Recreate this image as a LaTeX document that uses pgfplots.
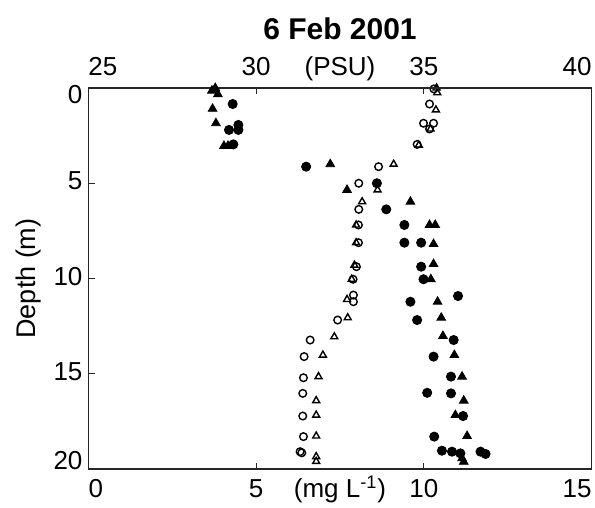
\documentclass[border=0pt]{standalone}
\usepackage{fontspec}
\setmainfont{Liberation Sans}
\usepackage{pgfplots}
\pgfplotsset{compat=1.18}
\begin{document}
\fontsize{13}{15}\selectfont
\begin{tikzpicture}
\useasboundingbox (-44.25pt,-19.5pt) rectangle (253.25pt,234.5pt);
\pgfplotsset{
  common/.style={
    scale only axis, width=251.5pt, height=190.5pt,
    at={(0,0)}, anchor=south west,
    ymin=0, ymax=20, y dir=reverse,
    tick align=inside, major tick length=3pt,
    /pgf/number format/assume math mode=true,
    tick label style={font=\fontsize{13}{15}\selectfont, text height=0.73em, text depth=0.22em},
    axis line style={line width=0.7pt, black!85},
    every tick/.style={line width=0.6pt, black!85},
  }
}
% bottom axis: DO (mg/L), open markers
\begin{axis}[common,
  xmin=0, xmax=15,
  xtick={0,5,10,15}, xtick pos=bottom,
  xticklabels={\makebox[0pt][l]{0},5,10,\makebox[0pt][r]{15}},
  ytick={0,5,10,15,20}, ytick pos=left,
  yticklabels={\raisebox{-4.5pt}{0},5,10,15,\raisebox{3pt}{20}},
  extra x ticks={7.5}, extra x tick labels={(mg L\textsuperscript{-1})},
  extra x tick style={major tick length=0pt, xticklabel style={}},
  yticklabel style={xshift=1.5pt},
  ylabel={Depth (m)},
  every axis y label/.style={at={([xshift=-30pt]axis description cs:0,0.5)}, rotate=90, anchor=center, font=\fontsize{13.5}{15}\selectfont},
  title={\bfseries 6 Feb 2001},
  every axis title/.style={at={([yshift=29.5pt]axis description cs:0.5,1)}, anchor=center, font=\fontsize{15}{17}\selectfont},
]
\addplot[only marks, mark=o, mark size=1.9pt, mark options={line width=0.7pt, black}] coordinates {
(10.30,0.05) (10.17,0.84) (9.99,1.85) (10.29,1.85) (10.17,2.15) (9.80,2.96)
(8.65,4.13) (8.06,5.00) (8.06,6.37) (8.05,7.19) (8.05,8.12) (7.99,9.38)
(7.89,10.04) (7.90,10.87) (7.90,11.22) (7.43,12.18) (6.61,13.23) (6.43,14.10)
(6.41,15.21) (6.39,16.03) (6.39,17.22) (6.41,18.30) (6.31,19.09) (6.36,19.15)
};
\addplot[only marks, mark=triangle, mark size=2.0pt, mark options={line width=0.7pt, black}] coordinates {
(10.38,0.00) (10.40,0.25) (10.36,1.15) (10.20,2.15) (9.85,3.00) (9.10,4.00)
(8.62,5.35) (8.16,5.97) (7.98,7.19) (7.98,8.12) (7.93,9.30) (7.85,10.04)
(7.71,11.10) (7.73,12.06) (7.33,13.06) (6.99,14.02) (6.86,15.15) (6.79,16.41)
(6.79,17.17) (6.79,18.27) (6.79,19.35) (6.79,19.60)
};
\end{axis}
% top axis: salinity (PSU), filled markers
\begin{axis}[common,
  xmin=25, xmax=40,
  axis x line*=top, axis y line=none,
  xtick={25,30,35,40},
  xticklabels={\makebox[0pt][l]{25},30,35,\makebox[0pt][r]{40}},
  extra x ticks={32.5}, extra x tick labels={(PSU)},
  extra x tick style={major tick length=0pt},
  xticklabel style={yshift=-1pt},
]
\addplot[only marks, mark=*, mark size=2.3pt, mark options={black, fill=black}] coordinates {
(29.30,0.84) (29.47,1.94) (29.19,2.20) (29.47,2.20) (29.32,2.96) (31.49,4.13)
(33.60,5.00) (33.88,6.37) (34.42,7.19) (34.42,8.12) (34.92,8.12) (34.92,9.38)
(34.99,10.04) (36.02,10.92) (34.60,11.22) (34.80,12.18) (35.89,13.23) (35.29,14.10)
(35.81,15.15) (35.10,16.00) (35.81,16.03) (36.17,17.22) (35.31,18.30) (35.54,19.04)
(35.84,19.09) (36.09,19.18) (36.69,19.09) (36.84,19.21)
};
\addplot[only marks, mark=triangle*, mark size=2.5pt, mark options={black, fill=black}] coordinates {
(28.78,0.00) (28.68,0.14) (28.86,0.33) (28.70,1.09) (28.80,1.85) (29.04,3.04)
(29.16,3.04) (32.21,4.00) (32.71,5.35) (34.60,5.97) (35.17,7.19) (35.34,7.19)
(35.29,8.19) (35.29,9.24) (35.21,10.04) (35.41,11.22) (35.52,12.06) (35.57,13.02)
(35.91,14.02) (36.14,15.15) (36.19,16.41) (35.94,17.17) (36.29,18.27) (36.14,19.44)
(36.19,19.62)
};
\end{axis}
\end{tikzpicture}
\end{document}
